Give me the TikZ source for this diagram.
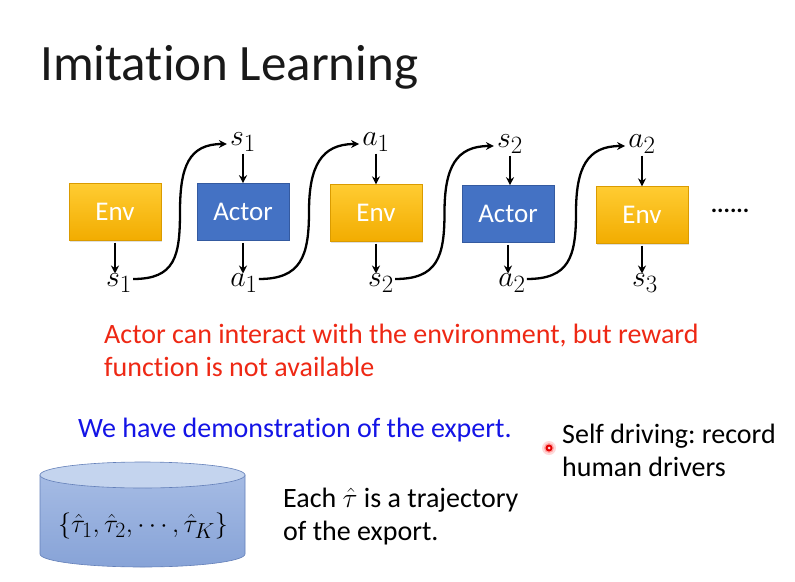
\documentclass[tikz,border=0pt]{standalone}
\usepackage{fontspec}
\setmainfont{Carlito}[Ligatures=NoCommon]
\frenchspacing
\usetikzlibrary{arrows.meta,calc,shadows}
\definecolor{envtop}{RGB}{255,204,50}
\definecolor{envbot}{RGB}{242,172,0}
\definecolor{actorc}{RGB}{68,114,196}
\definecolor{actorb}{RGB}{52,90,160}
\definecolor{redtxt}{RGB}{238,40,20}
\definecolor{bluetxt}{RGB}{20,20,230}
\definecolor{cyltop}{RGB}{196,212,238}
\definecolor{cylbodyt}{RGB}{165,187,228}
\definecolor{cylbodyb}{RGB}{135,163,215}
\definecolor{cylline}{RGB}{100,128,185}
\newcommand{\mylabmath}[1]{\scalebox{1.2}{$#1$}}
\tikzset{
  box/.style={minimum width=92pt, minimum height=57pt, inner sep=0pt, font=\fontsize{27}{30}\selectfont, text=white},
  envbox/.style={box, top color=envtop, bottom color=envbot, draw=envbot!90!black, line width=0.3pt, drop shadow={opacity=0.25, shadow xshift=1pt, shadow yshift=-1.5pt}},
  actorbox/.style={box, fill=actorc, draw=actorb, line width=0.6pt},
  lab/.style={inner sep=0pt, font=\fontsize{24.88}{30}\selectfont},
  sarr/.style={-{Stealth[length=8pt,width=8pt]}, line width=2pt},
  wave/.style={-{Stealth[length=8pt,width=8pt]}, line width=2.3pt,
    to path={.. controls +(42,0) and +(0,45) .. ($(\tikztostart)!0.5!(\tikztotarget)$) .. controls +(0,-45) and +(-38,0) .. (\tikztotarget) \tikztonodes}},
  txt/.style={inner sep=0pt, anchor=base west, font=\fontsize{28}{33}\selectfont, align=left},
}
\begin{document}
\begin{tikzpicture}[x=1pt,y=-1pt]
\useasboundingbox[fill=white] (0,0) rectangle (795,581);
% title
\node[inner sep=0pt, anchor=base west, font=\fontsize{51}{60}\selectfont, text={black!90}] (title) at (40,80) {Imitation Learning};
% boxes
\node[envbox] (env1) at (115,212) {Env};
\node[actorbox] (act1) at (243,212) {Actor};
\node[envbox] (env2) at (376,213) {Env};
\node[actorbox] (act2) at (508,214) {Actor};
\node[envbox] (env3) at (642,215) {Env};
\node[inner sep=0pt, font=\fontsize{24}{28}\selectfont\bfseries] (dots) at (730,211) {......};
% labels
\node[lab] (s1b) at (119,283) {\mylabmath{s_1}};
\node[lab] (s1t) at (243,142) {\mylabmath{s_1}};
\node[lab] (a1b) at (244,283) {\mylabmath{a_1}};
\node[lab] (a1t) at (376,142) {\mylabmath{a_1}};
\node[lab] (s2b) at (381,283) {\mylabmath{s_2}};
\node[lab] (s2t) at (510,144) {\mylabmath{s_2}};
\node[lab] (a2b) at (512,283) {\mylabmath{a_2}};
\node[lab] (a2t) at (642,144) {\mylabmath{a_2}};
\node[lab] (s3b) at (645,283) {\mylabmath{s_3}};
% short arrows
\draw[sarr] (env1.south) ++(0,2) coordinate (e1o) -- (e1o |- s1b.north);
\draw[sarr] (s1t.south) ++(0,2) coordinate (s1o) -- (s1o |- act1.north);
\draw[sarr] (act1.south) ++(0,2) coordinate (a1o) -- (a1o |- a1b.north);
\draw[sarr] (a1t.south) ++(0,2) coordinate (a1p) -- (a1p |- env2.north);
\draw[sarr] (env2.south) ++(0,2) coordinate (e2o) -- (e2o |- s2b.north);
\draw[sarr] (s2t.south) ++(0,2) coordinate (s2o) -- (s2o |- act2.north);
\draw[sarr] (act2.south) ++(0,2) coordinate (a2o) -- (a2o |- a2b.north);
\draw[sarr] (a2t.south) ++(0,2) coordinate (a2p) -- (a2p |- env3.north);
\draw[sarr] (env3.south) ++(0,2) coordinate (e3o) -- (e3o |- s3b.north);
% wave arrows
\draw[wave] ([xshift=1pt,yshift=4pt]s1b.east) to ([xshift=-3pt,yshift=-2pt]s1t.west);
\draw[wave] ([xshift=1pt,yshift=4pt]a1b.east) to ([xshift=-3pt,yshift=-2pt]a1t.west);
\draw[wave] ([xshift=1pt,yshift=4pt]s2b.east) to ([xshift=-3pt,yshift=-2pt]s2t.west);
\draw[wave] ([xshift=1pt,yshift=4pt]a2b.east) to ([xshift=-3pt,yshift=-2pt]a2t.west);
% red text
\node[txt, text=redtxt] (redt) at (104,376) {Actor can interact with the environment, but reward\\function is not available};
% blue text
\node[txt, text=bluetxt] (bluet) at (78,437) {We have demonstration of the expert.};
% cylinder
\path[top color=cylbodyt, bottom color=cylbodyb, draw=cylline, line width=0.6pt]
  (40,475) -- (40,554) arc[start angle=180, end angle=360, x radius=102.5pt, y radius=13pt] -- (245,475) -- cycle;
\draw[fill=cyltop, draw=cylline, line width=0.6pt] (142.5,475) ellipse [x radius=102.5pt, y radius=13pt];
\node[inner sep=0pt, font=\fontsize{24.88}{30}\selectfont] (traj) at (143,526) {\scalebox{1.05}{$\{\hat\tau_1,\hat\tau_2,\cdots,\hat\tau_K\}$}};
% each tau
\node[txt] (each) at (283,540) {Each \scalebox{1.12}{$\hat\tau$} is a trajectory\\of the export.};
% self driving
\node[txt] (self) at (562,476) {Self driving: record\\human drivers};
% laser dot
\fill[red, opacity=0.15] (549,448) circle[radius=7pt];
\fill[red, opacity=0.25] (549,448) circle[radius=5pt];
\fill[red!90!black] (549,448) circle[radius=3.5pt];
\fill[red!15] (549,448) circle[radius=1.5pt];
\end{tikzpicture}
\end{document}
